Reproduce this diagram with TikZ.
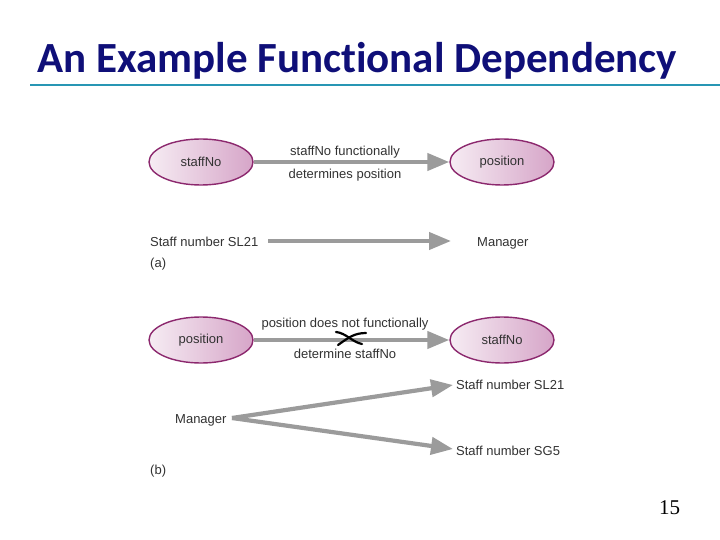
\documentclass[tikz,border=0pt]{standalone}
\usepackage{fontspec}
\setmainfont{Liberation Sans}
\newfontfamily\titlefont[Ligatures=NoCommon]{Carlito}
\newfontfamily\numfont{Liberation Serif}
\usetikzlibrary{shapes.geometric,arrows.meta}
\definecolor{navytitle}{RGB}{15,15,120}
\definecolor{rulecol}{RGB}{40,150,180}
\definecolor{ellborder}{RGB}{140,40,110}
\definecolor{ellleft}{RGB}{246,236,243}
\definecolor{ellright}{RGB}{214,165,200}
\definecolor{arrgray}{RGB}{155,155,155}
\definecolor{txtgray}{RGB}{50,50,50}
\tikzset{
  attr/.style={ellipse, draw=ellborder, line width=1.4pt, left color=ellleft, right color=ellright,
    minimum width=104pt, minimum height=46pt, inner sep=0pt, font=\fontsize{13}{15}\selectfont, text=txtgray},
  lbl/.style={font=\fontsize{13}{15}\selectfont, text=txtgray, inner sep=0pt},
  fd/.style={draw=arrgray, line width=4.2pt, -{Triangle[length=22pt,width=17pt]}},
}
\begin{document}
\begin{tikzpicture}[x=1pt,y=-1pt]
\useasboundingbox (0,0) rectangle (720,540);
\fill[white] (0,0) rectangle (720,540);
% title
\node[anchor=base west, inner sep=0pt, font=\titlefont\bfseries\fontsize{43}{47}\selectfont, text=navytitle] (title) at (37,73) {An Example Functional Dependency};
\coordinate (r1) at (30,85);
\coordinate (r2) at (720,85);
\draw[rulecol, line width=1.6pt] (r1) -- (r2);
% part (a)
\node[attr] (s1) at (201,162) {staffNo};
\node[attr] (p1) at (502,162) {position};
\draw[fd] (s1) -- (p1);
\node[lbl, anchor=base] (l1) at (345,156) {staffNo functionally};
\node[lbl, anchor=base] (l2) at (345,179) {determines position};
\node[lbl, anchor=base west] (sn1) at (150,246) {Staff number SL21};
\node[lbl, anchor=base west] (m1) at (477,246) {Manager};
\coordinate (a1) at (268,241);
\coordinate (a2) at (451,241);
\draw[fd] (a1) -- (a2);
\node[lbl, anchor=base west] (a) at (150,267) {(a)};
% part (b)
\node[attr] (p2) at (201,340) {position};
\node[attr] (s2) at (502,340) {staffNo};
\draw[fd] (p2) -- (s2);
\node[lbl, anchor=base] (l3) at (345,327) {position does not functionally};
\node[lbl, anchor=base] (l4) at (345,358) {determine staffNo};
\coordinate (xa1) at (336,332);
\coordinate (xa2) at (362,344);
\coordinate (xb1) at (338,345);
\coordinate (xb2) at (366,333);
\draw[black, line width=2.2pt, line cap=round] (xa1) .. controls (346,333) and (352,342) .. (xa2);
\draw[black, line width=2.2pt, line cap=round] (xb1) .. controls (348,338) and (354,333) .. (xb2);
\node[lbl, anchor=base west] (m2) at (175,423) {Manager};
\node[lbl, anchor=base west] (t1) at (456,389) {Staff number SL21};
\node[lbl, anchor=base west] (t2) at (456,455) {Staff number SG5};
\coordinate (fork) at (232,418);
\coordinate (e1) at (453,385);
\coordinate (e2) at (453,449);
\draw[fd] (fork) -- (e1);
\draw[fd] (fork) -- (e2);
\node[lbl, anchor=base west] (b) at (150,474) {(b)};
% page number
\node[anchor=base west, inner sep=0pt, font=\numfont\fontsize{21}{24}\selectfont] (pg) at (659,514) {15};
\end{tikzpicture}
\end{document}
